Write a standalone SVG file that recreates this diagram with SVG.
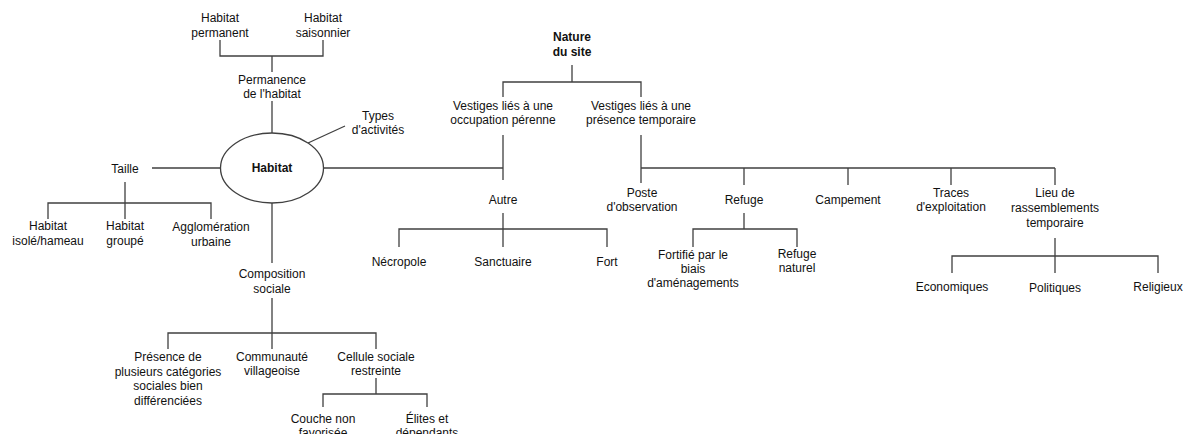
<svg xmlns="http://www.w3.org/2000/svg" width="1184" height="434" viewBox="0 0 1184 434">
<style>
text{font-family:"Liberation Sans",Arial,sans-serif;font-size:12px;fill:#111;text-anchor:middle}
.b{font-weight:bold}
.c{fill:none;stroke:#404040;stroke-width:1.3}
</style>
<rect width="1184" height="434" fill="#fff"/>
<g id="connectors" class="c">
<path d="M220,40V56H323V40M272,56V72"/>
<path d="M272,101V133"/>
<path d="M308,143L345,126"/>
<path d="M152,168H220.5M323.5,168H503"/>
<path d="M125,182V203M48,219V203H211V219M125,203V219"/>
<path d="M272,203V263"/>
<path d="M272,298V349M168,349V333H376V349"/>
<path d="M376,378V394M323,407V394H427V407"/>
<path d="M572,65V82M503,97V82H641V97"/>
<path d="M503,135V180M503,213V247M399,247V229H607V247"/>
<path d="M641,135V183M641,168H1055M744,168V185M848,168V185M951,168V185M1055,168V185"/>
<path d="M744,213V229M693,247V229H797V247"/>
<path d="M1055,238V273M952,273V256H1158V273"/>
</g>
<g id="habitat"><ellipse cx="272" cy="168" rx="51.5" ry="35" fill="#fff" stroke="#404040" stroke-width="1.3"/><text class="b" x="272" y="172">Habitat</text></g>
<g id="habitat-permanent"><text x="220" y="22">Habitat</text><text x="220" y="37">permanent</text></g>
<g id="habitat-saisonnier"><text x="323" y="22">Habitat</text><text x="323" y="37">saisonnier</text></g>
<g id="permanence"><text x="272" y="84">Permanence</text><text x="272" y="98">de l'habitat</text></g>
<g id="types"><text x="378" y="120">Types</text><text x="378" y="134">d'activités</text></g>
<g id="taille"><text x="125" y="173">Taille</text></g>
<g id="isole"><text x="48" y="230">Habitat</text><text x="48" y="245">isolé/hameau</text></g>
<g id="groupe"><text x="125" y="230">Habitat</text><text x="125" y="245">groupé</text></g>
<g id="agglo"><text x="211" y="231">Agglomération</text><text x="211" y="246">urbaine</text></g>
<g id="composition"><text x="272" y="278">Composition</text><text x="272" y="293">sociale</text></g>
<g id="presence"><text x="168" y="361">Présence de</text><text x="168" y="376">plusieurs catégories</text><text x="168" y="390">sociales bien</text><text x="168" y="405">différenciées</text></g>
<g id="communaute"><text x="272" y="361">Communauté</text><text x="272" y="375">villageoise</text></g>
<g id="cellule"><text x="376" y="361">Cellule sociale</text><text x="376" y="375">restreinte</text></g>
<g id="couche"><text x="323" y="423">Couche non</text><text x="323" y="437">favorisée</text></g>
<g id="elites"><text x="427" y="423">Élites et</text><text x="427" y="437">dépendants</text></g>
<g id="nature"><text class="b" x="572" y="41">Nature</text><text class="b" x="572" y="56">du site</text></g>
<g id="perenne"><text x="503" y="110">Vestiges liés à une</text><text x="503" y="124">occupation pérenne</text></g>
<g id="temporaire"><text x="641" y="110">Vestiges liés à une</text><text x="641" y="124">présence temporaire</text></g>
<g id="autre"><text x="503" y="204">Autre</text></g>
<g id="necropole"><text x="399" y="266">Nécropole</text></g>
<g id="sanctuaire"><text x="503" y="266">Sanctuaire</text></g>
<g id="fort"><text x="607" y="266">Fort</text></g>
<g id="poste"><text x="642" y="197">Poste</text><text x="642" y="211">d'observation</text></g>
<g id="refuge"><text x="744" y="204">Refuge</text></g>
<g id="campement"><text x="848" y="204">Campement</text></g>
<g id="traces"><text x="951" y="197">Traces</text><text x="951" y="211">d'exploitation</text></g>
<g id="lieu"><text x="1055" y="197">Lieu de</text><text x="1055" y="212">rassemblements</text><text x="1055" y="227">temporaire</text></g>
<g id="fortifie"><text x="693" y="259">Fortifié par le</text><text x="693" y="273">biais</text><text x="693" y="287">d'aménagements</text></g>
<g id="refuge-naturel"><text x="797" y="258">Refuge</text><text x="797" y="272">naturel</text></g>
<g id="economiques"><text x="952" y="291">Economiques</text></g>
<g id="politiques"><text x="1055" y="292">Politiques</text></g>
<g id="religieux"><text x="1158" y="291">Religieux</text></g>
</svg>
